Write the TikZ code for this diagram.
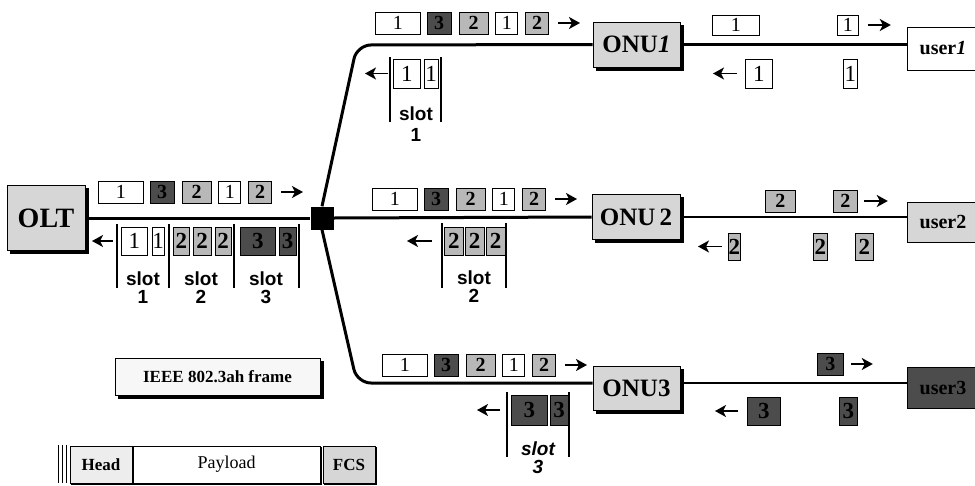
\documentclass[tikz,border=0pt]{standalone}
\usepackage{fontspec}
\setmainfont{Liberation Serif}
\setsansfont{Liberation Sans}
\usetikzlibrary{arrows.meta,positioning}
\definecolor{lgray}{gray}{0.84}
\definecolor{mgray}{gray}{0.72}
\definecolor{dgray}{gray}{0.3}
\tikzset{
  fiber/.style={line width=3pt},
  drop/.style={line width=2.4pt},
  shdw/.style={preaction={fill=black,draw=black,
               transform canvas={xshift=#1,yshift=-#1}}},
  shdw/.default=3pt,
  dev/.style={draw,line width=1pt,fill=lgray,inner sep=0pt,shdw,
              font=\bfseries\fontsize{25}{25}\selectfont},
  usr/.style={draw,line width=1pt,inner sep=0pt,minimum width=72,
              font=\bfseries\fontsize{20}{20}\selectfont},
  pk/.style={draw,line width=0.8pt,fill=white,inner sep=0pt,
             minimum height=22,font=\fontsize{20}{20}\selectfont},
  pkg/.style={pk,fill=mgray,font=\bfseries\fontsize{20}{20}\selectfont},
  pkd/.style={pk,fill=dgray,font=\bfseries\fontsize{20}{20}\selectfont},
  pku/.style={pk,minimum height=28,font=\fontsize{23}{23}\selectfont},
  pkgu/.style={pku,fill=mgray,font=\bfseries\fontsize{23}{23}\selectfont},
  pkdu/.style={pku,fill=dgray,font=\bfseries\fontsize{23}{23}\selectfont},
  dirr/.style={line width=1.8pt,-{Stealth[length=11pt,width=12pt,inset=3pt]}},
  dirl/.style={dirr},
  bar/.style={line width=1.2pt},
  slotlbl/.style={inner sep=0pt,anchor=north,align=center,
                  font=\sffamily\bfseries\fontsize{19}{18}\selectfont},
  fbox/.style={draw,line width=0.8pt,inner sep=0pt,minimum height=37,
               shdw=1.8pt,font=\bfseries\fontsize{17}{17}\selectfont},
}
% downstream frame train: name, left x, centre y
\newcommand{\pkttrain}[3]{%
  \node[pk,anchor=west,minimum width=45] (#1a) at (#2,#3) {1};
  \node[pkd,minimum width=24,right=6pt of #1a] (#1b) {3};
  \node[pkg,minimum width=29,right=7pt of #1b] (#1c) {2};
  \node[pk,minimum width=22,right=7pt of #1c] (#1d) {1};
  \node[pkg,minimum width=23,right=7pt of #1d] (#1e) {2};
  \draw[dirr] ([xshift=9pt]#1e.east) -- ++(22,0);
}

\begin{document}
\begin{tikzpicture}[x=1pt,y=-1pt]
\useasboundingbox (0,0) rectangle (975,485);

% network
\node[dev,minimum width=78,minimum height=65,
      font=\bfseries\fontsize{28}{28}\selectfont] (olt) at (46,218) {OLT};
\node[fill=black,minimum size=23,inner sep=0pt] (split) at (322,218) {};
\node[dev,minimum width=87,minimum height=45] (onu1) at (636.5,44.5) {ONU\textit{1}};
\node[dev,minimum width=88,minimum height=45] (onu2) at (636,217) {ONU\,2};
\node[dev,minimum width=87,minimum height=44] (onu3) at (636.5,388) {ONU3};
\node[usr,fill=white,minimum height=43] (usr1) at (943,48.5) {user\textit{1}};
\node[usr,fill=lgray,minimum height=40] (usr2) at (943,222) {user2};
\node[usr,fill=dgray,minimum height=41] (usr3) at (943,387.5) {user3};

\coordinate (c1) at (357,45);
\coordinate (c3) at (357,383);
\draw[fiber] (olt.east) -- (split.west);
\draw[fiber] (split.east) -- (onu2.west);
\draw[fiber,rounded corners=14pt] (split.north) -- (c1) -- (onu1.west);
\draw[fiber,rounded corners=14pt] (split.south) -- (c3) -- (c3 -| onu3.west);
\draw[drop] (onu1.east) -- (onu1.east -| usr1.west);
\draw[drop] (onu2.east) -- (onu2.east -| usr2.west);
\draw[drop] (c3 -| onu3.east) -- (c3 -| usr3.west);

% downstream
\pkttrain{ol}{98}{192}
\pkttrain{ra}{375}{23}
\pkttrain{rb}{372}{199}
\pkttrain{rc}{382}{365}

% upstream at the OLT
\node[pku,anchor=west,minimum width=26] (u1) at (121,241) {1};
\node[pku,minimum width=12,right=4pt of u1] (u2) {1};
\node[pkgu,anchor=west,minimum width=16] (u3) at (173,241) {2};
\node[pkgu,minimum width=18,right=3pt of u3] (u4) {2};
\node[pkgu,minimum width=16,right=3pt of u4] (u5) {2};
\node[pkdu,anchor=west,minimum width=35] (u6) at (240,241) {3};
\node[pkdu,minimum width=17,right=3pt of u6] (u7) {3};
\draw[dirl] ([xshift=-8pt]u1.west) -- ++(-21,0);
\foreach \x in {117,169,234,299} \draw[bar] (\x,224) -- (\x,288);
\node[slotlbl] (s1) at (143,272) {slot\\1};
\node[slotlbl] (s2) at (201,272) {slot\\2};
\node[slotlbl] (s3) at (266,272) {slot\\3};

% upstream on the branches
\node[pku,anchor=west,minimum width=27,minimum height=29] (ua1) at (393,73.5) {1};
\node[pku,minimum width=14,minimum height=29,right=3pt of ua1] (ua2) {1};
\draw[dirl] ([xshift=-5pt]ua1.west) -- ++(-23,0);
\foreach \x in {390,441} \draw[bar] (\x,57) -- (\x,122);
\node[slotlbl] (sa) at (416,107) {slot\\[3pt]1};

\node[pkgu,anchor=west,minimum width=19] (ub1) at (444,241) {2};
\node[pkgu,minimum width=19,right=1pt of ub1] (ub2) {2};
\node[pkgu,minimum width=19,right=1pt of ub2] (ub3) {2};
\draw[dirl] ([xshift=-12pt]ub1.west) -- ++(-25,0);
\foreach \x in {442,506} \draw[bar] (\x,223) -- (\x,288);
\node[slotlbl] (sb) at (474,271) {slot\\2};

\node[pkdu,anchor=west,minimum width=36,minimum height=30] (uc1) at (511,410) {3};
\node[pkdu,minimum width=18,minimum height=30,right=2pt of uc1] (uc2) {3};
\draw[dirl] ([xshift=-11pt]uc1.west) -- ++(-23,0);
\foreach \x in {507,569} \draw[bar] (\x,392) -- (\x,457);
\node[slotlbl,font=\sffamily\bfseries\itshape\fontsize{19}{18}\selectfont]
  (sc) at (538,442) {slot\\3};

% ONU to user
\node[pk,anchor=west,minimum width=47,minimum height=20] (e1) at (712,25) {1};
\node[pk,anchor=west,minimum width=21,minimum height=20] (e2) at (837,25) {1};
\draw[dirr] ([xshift=9pt]e2.east) -- ++(23,0);
\node[pku,anchor=west,minimum width=27,minimum height=29] (f1) at (745,73.5) {1};
\node[pku,anchor=west,minimum width=14,minimum height=29] (f2) at (843,73.5) {1};
\draw[dirl] ([xshift=-8pt]f1.west) -- ++(-24,0);

\node[pkg,anchor=west,minimum width=30] (g1) at (765,201) {2};
\node[pkg,anchor=west,minimum width=24] (g2) at (833,201) {2};
\draw[dirr] ([xshift=6pt]g2.east) -- ++(24,0);
\node[pkgu,anchor=west,minimum width=12,minimum height=27] (h1) at (728,246.5) {2};
\node[pkgu,anchor=west,minimum width=14,minimum height=27] (h2) at (813,246.5) {2};
\node[pkgu,anchor=west,minimum width=18,minimum height=27] (h3) at (855,246.5) {2};
\draw[dirl] ([xshift=-6pt]h1.west) -- ++(-24,0);

\node[pkd,anchor=west,minimum width=26] (i1) at (817,364) {3};
\draw[dirr] ([xshift=7pt]i1.east) -- ++(22,0);
\node[pkdu,anchor=west,minimum width=33] (j1) at (747,411) {3};
\node[pkdu,anchor=west,minimum width=18] (j2) at (839,411) {3};
\draw[dirl] ([xshift=-9pt]j1.west) -- ++(-23,0);

% frame legend
\node[dev,fill=gray!6,minimum width=205,minimum height=37,
      font=\bfseries\fontsize{17}{17}\selectfont] (ieee) at (217.5,376.5)
  {IEEE 802.3ah frame};
\foreach \x in {58,62,66} \draw[line width=0.6pt] (\x,445) -- (\x,483);
\node[fbox,fill=gray!14,minimum width=62] (head) at (101,464.5) {Head};
\node[fbox,fill=white,minimum width=187,font=\fontsize{18}{18}\selectfont]
  (pay) at (226.5,464.5) {Payload};
\node[fbox,fill=lgray,minimum width=52] (fcs) at (349,464.5) {FCS};
\end{tikzpicture}
\end{document}
